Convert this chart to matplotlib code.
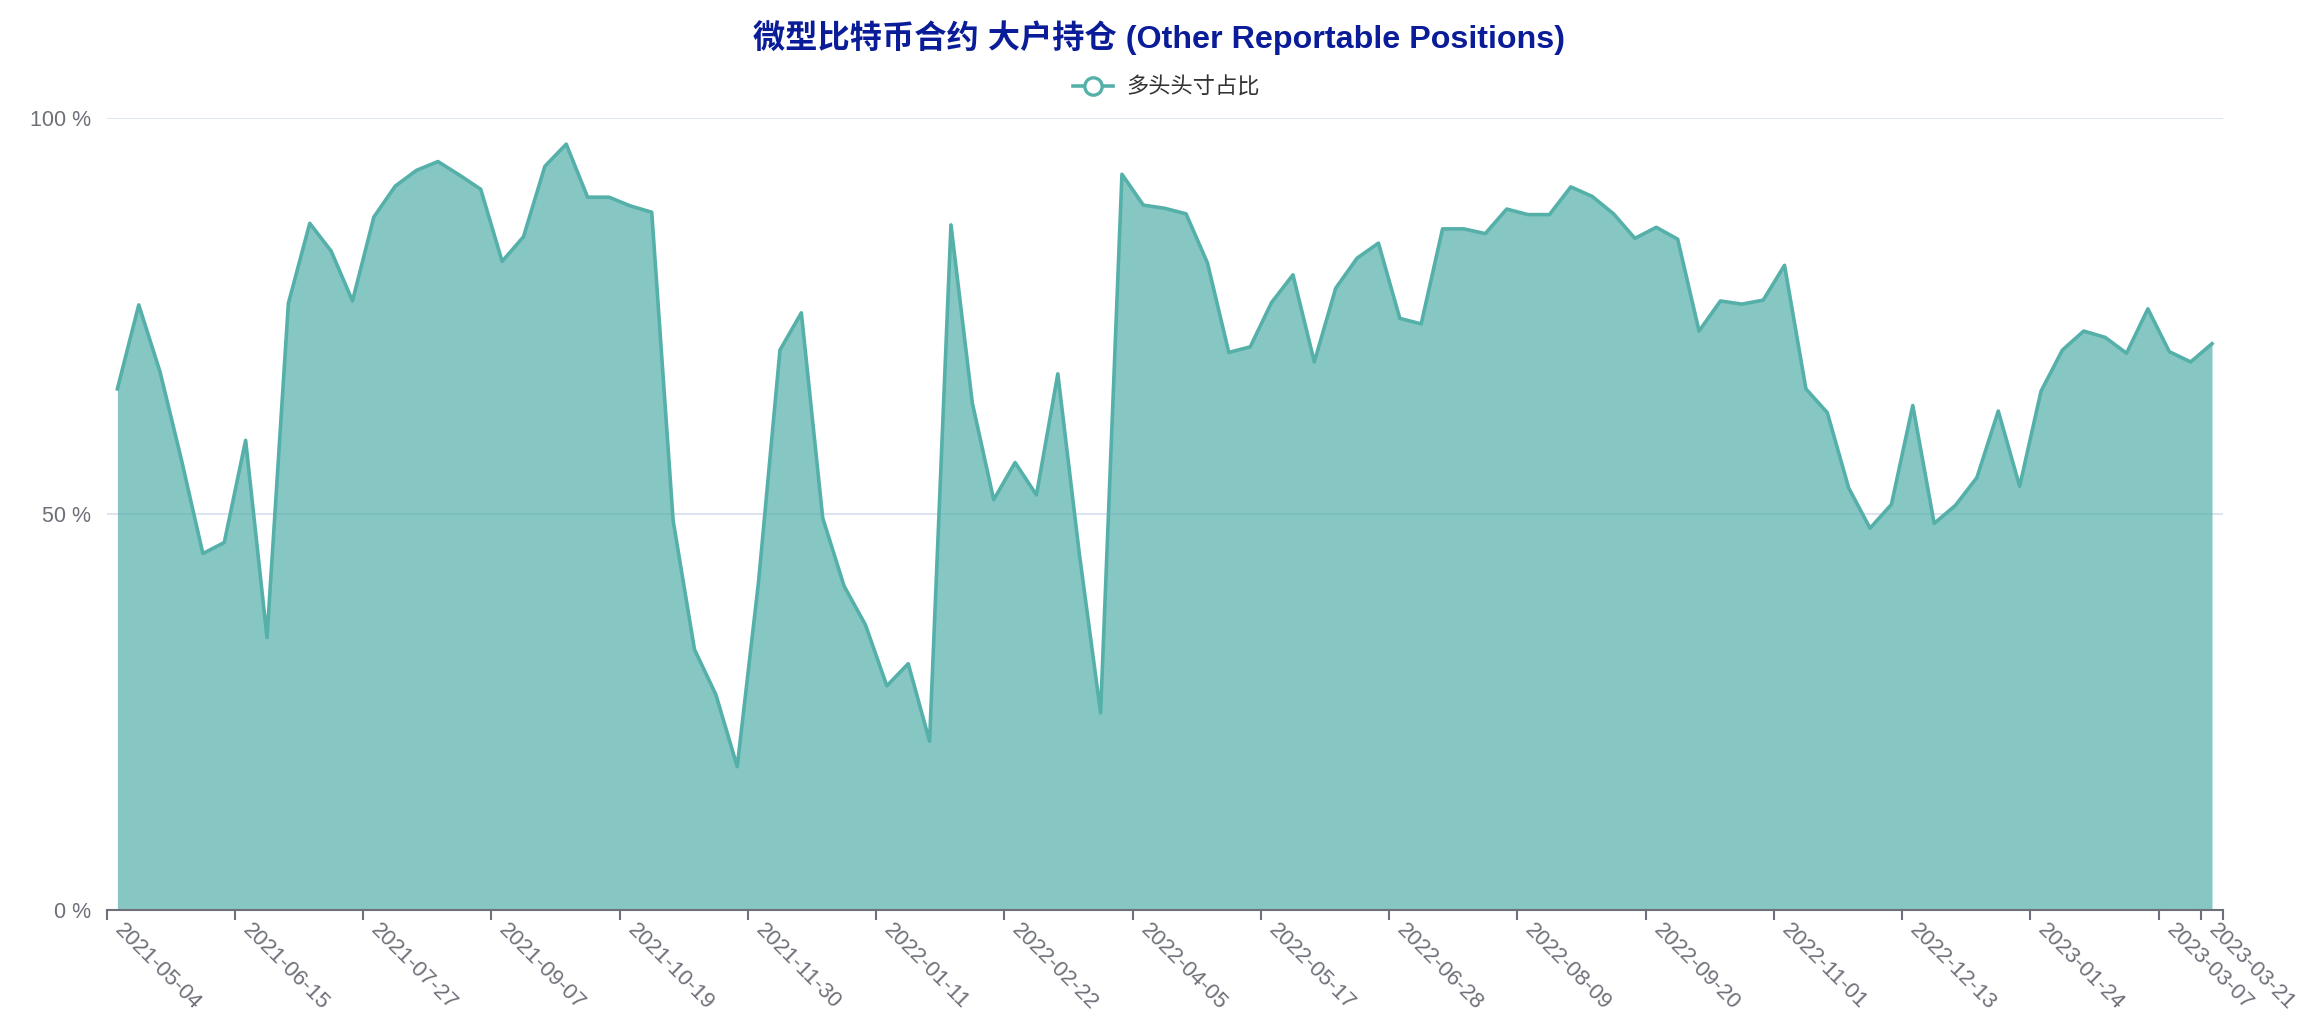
import matplotlib
matplotlib.use("Agg")
import matplotlib.pyplot as plt
from matplotlib.lines import Line2D
from matplotlib.font_manager import FontProperties
import numpy as np
import pandas as pd

# ---- data ----
dates = [d.strftime("%Y-%m-%d") for d in pd.date_range("2021-05-04", periods=99, freq="7D")]
long_ratio = [
    65.8, 76.4, 67.9, 56.8, 45.0, 46.4, 59.3, 34.4, 76.6, 86.7,
    83.2, 76.9, 87.5, 91.4, 93.4, 94.5, 92.8, 91.0, 81.9, 85.0,
    93.9, 96.7, 90.0, 90.0, 88.9, 88.1, 49.2, 32.9, 27.2, 18.1,
    41.5, 70.7, 75.4, 49.5, 40.9, 36.0, 28.3, 31.1, 21.3, 86.5,
    64.0, 51.8, 56.5, 52.4, 67.7, 45.1, 24.9, 92.9, 89.0, 88.6,
    87.9, 81.7, 70.4, 71.1, 76.7, 80.2, 69.2, 78.5, 82.3, 84.2,
    74.7, 74.0, 86.0, 86.0, 85.4, 88.5, 87.8, 87.8, 91.3, 90.1,
    87.9, 84.8, 86.2, 84.7, 73.1, 76.9, 76.5, 77.0, 81.4, 65.8,
    62.8, 53.3, 48.2, 51.2, 63.7, 48.8, 51.1, 54.6, 63.0, 53.5,
    65.5, 70.7, 73.1, 72.3, 70.3, 75.9, 70.5, 69.2, 71.5,
]
series_name = "多头头寸占比"
title_text = "微型比特币合约 大户持仓 (Other Reportable Positions)"
y_ticks = [0, 50, 100]
y_tick_labels = ["0 %", "50 %", "100 %"]

# ---- style ----
LINE_C = "#55B0AA"
AXIS_C = "#6E7079"
GRID_C = "#DDE3F0"
TITLE_C = "#0A1C98"
FONTS = ["Liberation Sans", "Noto Sans CJK SC", "DejaVu Sans"]
plt.rcParams["font.family"] = FONTS

W, H = 2318, 1024
fig = plt.figure(figsize=(W / 100, H / 100), dpi=100)
left, right, top, bottom = 106.7, 2222.7, 118, 910
ax = fig.add_axes([left / W, 1 - bottom / H, (right - left) / W, (bottom - top) / H])

x = np.arange(len(dates))
ax.fill_between(x, 0, long_ratio, color=LINE_C, alpha=0.7, linewidth=0, zorder=2)
ax.plot(x, long_ratio, color=LINE_C, linewidth=2.6, zorder=3, solid_joinstyle="round")

ax.set_xlim(-0.5, len(dates) - 0.5)
ax.set_ylim(0, 100)

# grid
for v in y_ticks[1:]:
    ax.axhline(v, color=GRID_C, linewidth=1.4, zorder=1)

# spines
for s in ["top", "right", "left"]:
    ax.spines[s].set_visible(False)
ax.spines["bottom"].set_color(AXIS_C)
ax.spines["bottom"].set_linewidth(1.5)
ax.spines["bottom"].set_zorder(4)

# y axis
ax.set_yticks(y_ticks)
ax.set_yticklabels(y_tick_labels)
ax.tick_params(axis="y", length=0, pad=11, labelsize=15.5, labelcolor=AXIS_C)

# x axis: labels at category centres, ticks at band boundaries
label_idx = list(range(0, len(dates), 6)) + [len(dates) - 1]
ax.set_xticks(label_idx)
ax.set_xticklabels([dates[i] for i in label_idx])
ax.tick_params(axis="x", which="major", length=0, pad=12, labelsize=15.8, labelcolor=AXIS_C)
for lab in ax.get_xticklabels():
    lab.set_rotation(-45)
    lab.set_ha("left")
    lab.set_va("center")
    lab.set_rotation_mode("anchor")

minor_pos = [i - 0.5 for i in label_idx] + [len(dates) - 0.5]
ax.set_xticks(minor_pos, minor=True)
ax.tick_params(axis="x", which="minor", length=7.2, width=1.5, color=AXIS_C)

# title
fig.text(0.5, 1 - 38 / H, title_text, ha="center", va="center",
         fontsize=23.2, fontweight="bold", color=TITLE_C, family=FONTS)

# legend
handle = Line2D([], [], color=LINE_C, linewidth=2.6, marker="o", markersize=12.5,
                markerfacecolor="white", markeredgecolor=LINE_C, markeredgewidth=2.4)
fig.legend([handle], [series_name], loc="center", bbox_to_anchor=(0.503, 1 - 87 / H),
           frameon=False, handlelength=1.8, handletextpad=0.6,
           prop=FontProperties(family=["Noto Sans CJK SC", "DejaVu Sans"], size=16),
           labelcolor="#333333")

fig.savefig("out.png", dpi=100, facecolor="white")
